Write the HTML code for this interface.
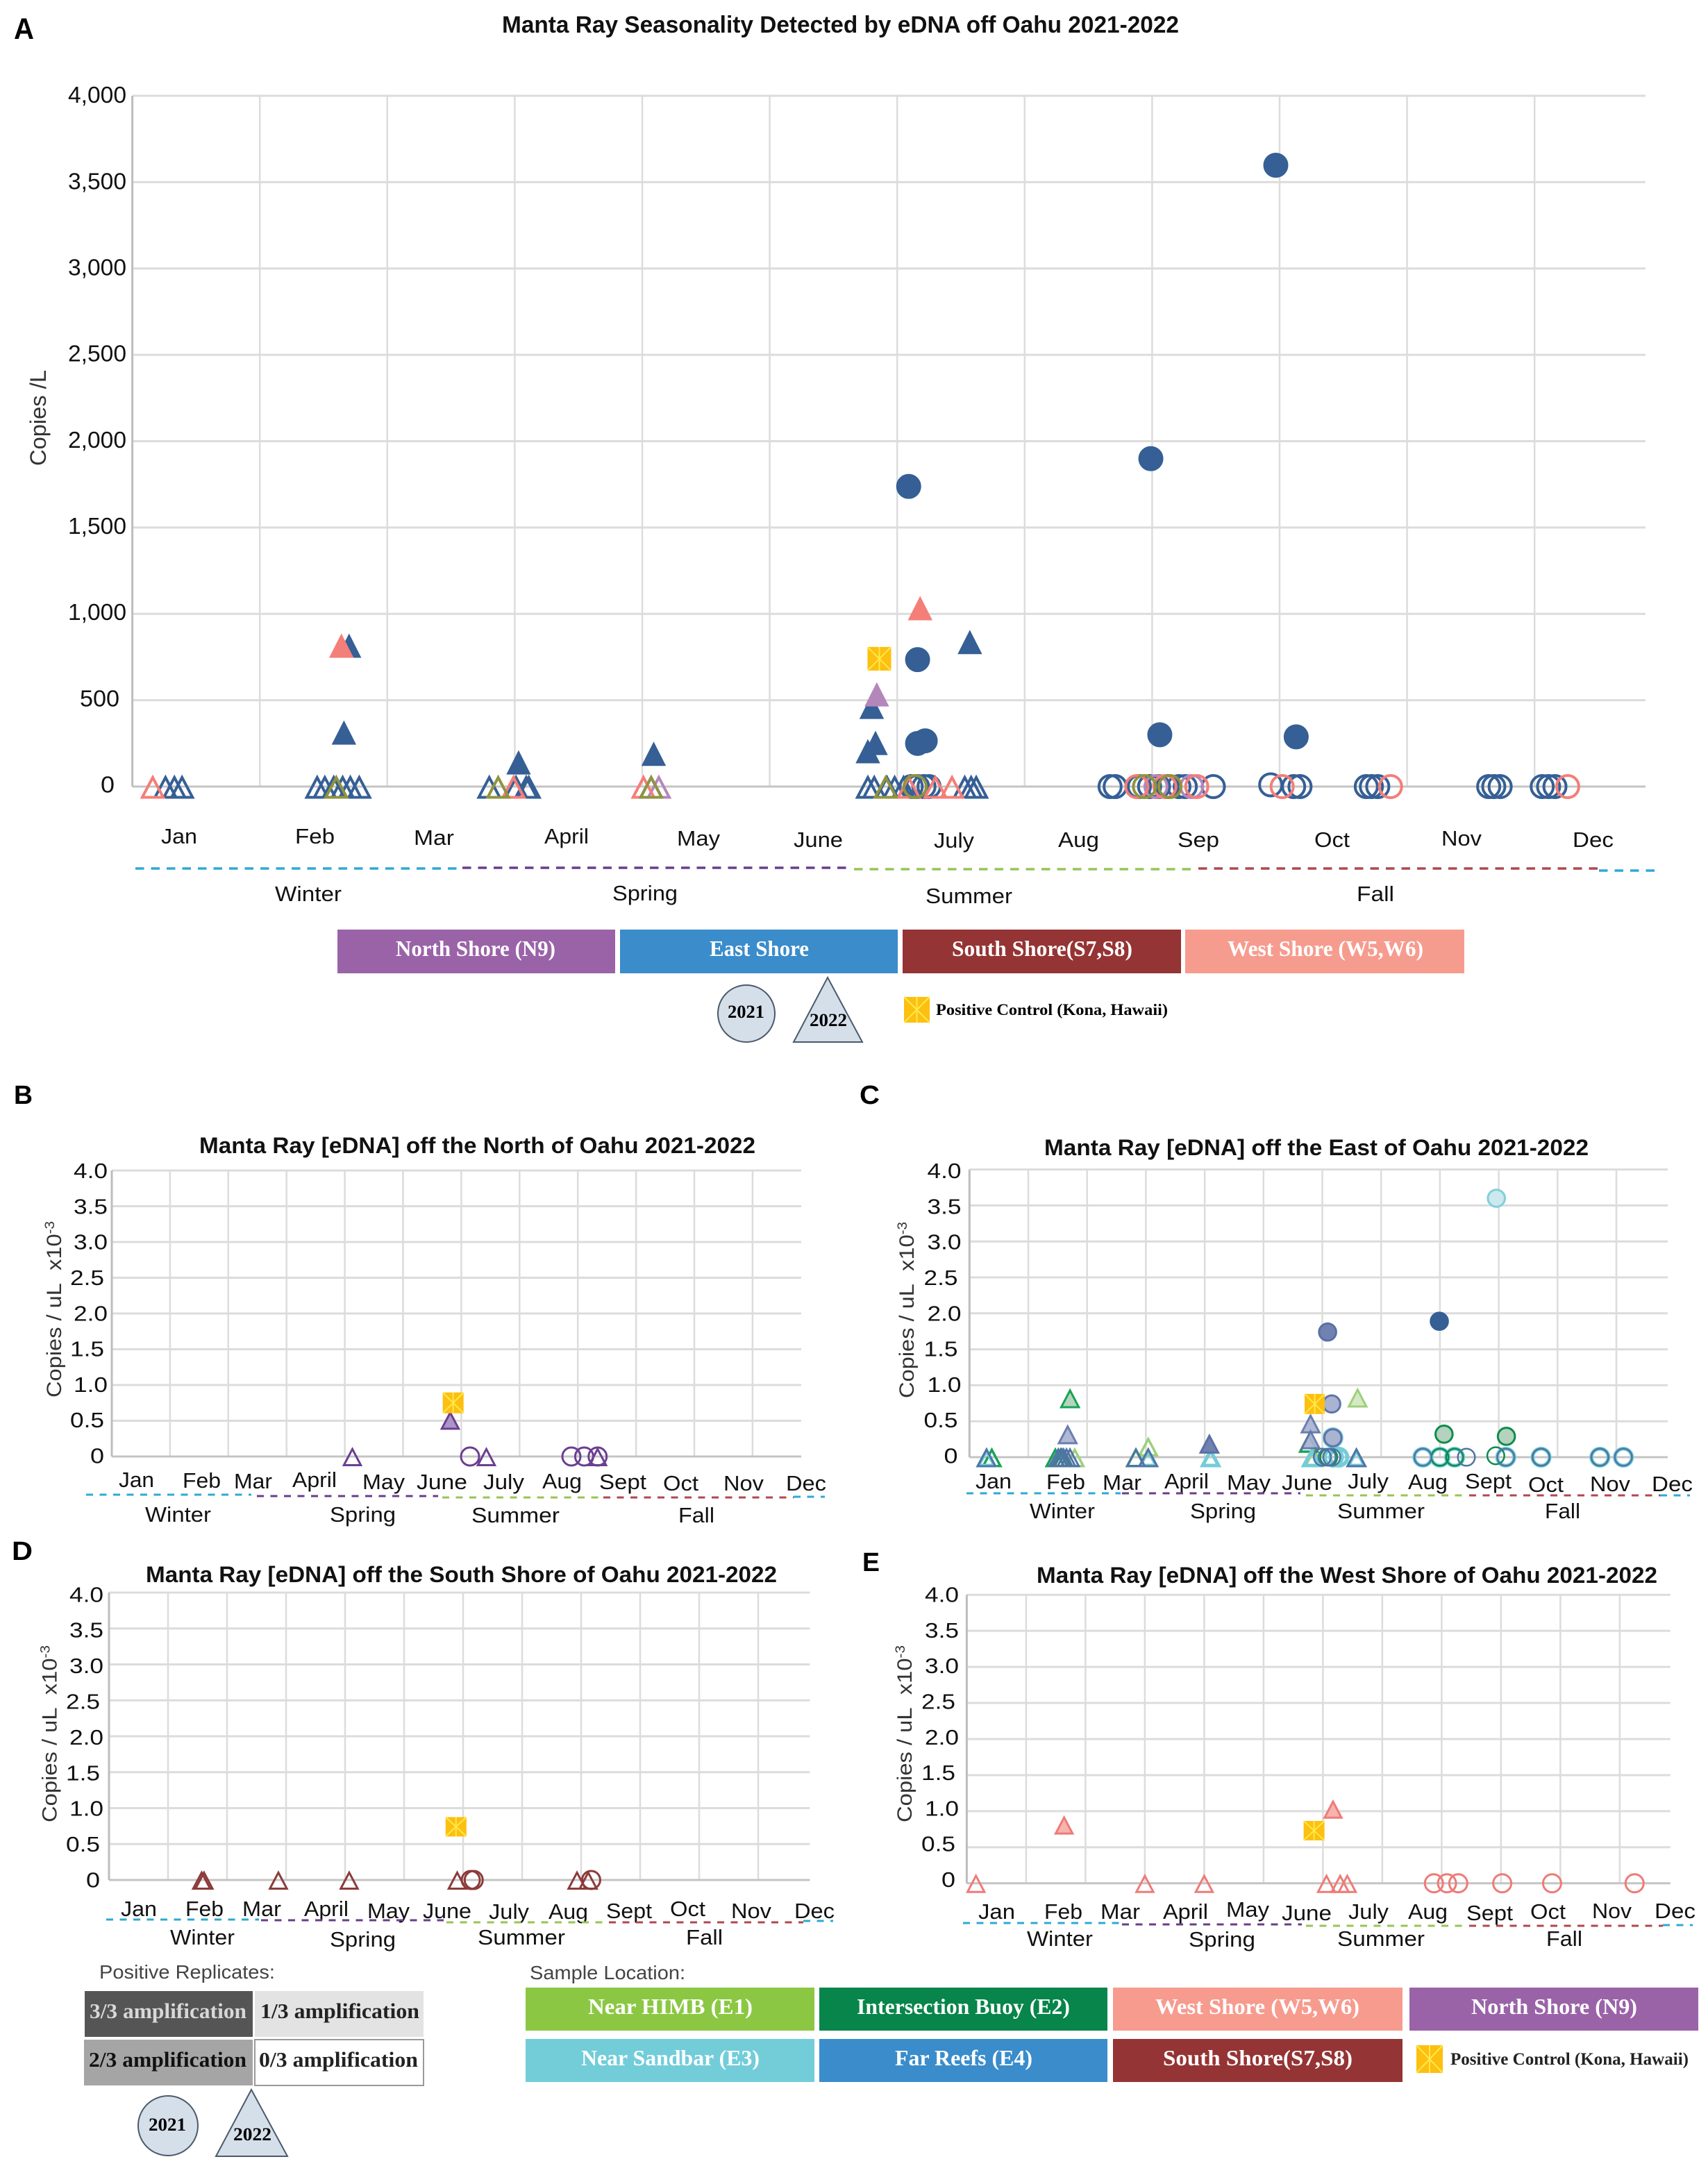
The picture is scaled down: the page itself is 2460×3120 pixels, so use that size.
<!DOCTYPE html>
<html lang="en">
<head>
<meta charset="utf-8">
<title>Manta Ray Seasonality Detected by eDNA off Oahu 2021-2022</title>
<style>
html,body{margin:0;padding:0;background:#fff}
svg{display:block}
text{font-family:"Liberation Sans",sans-serif;fill:#111}
.ttl{font-weight:700;font-size:32px}
.let{font-weight:700;font-size:38px;fill:#000}
.m{font-size:31px}
.s{font-size:31px}
.yt{font-size:30px;fill:#333}
.lg{font-family:"Liberation Serif",serif;font-weight:700;font-size:32px;fill:#fff}
.lk{font-family:"Liberation Serif",serif;font-weight:700;font-size:26px;fill:#000}
.lh{font-size:28px;fill:#444}
.win{stroke:#2fa8d5}.spr{stroke:#6a3d8a}.sum{stroke:#98c455}.fal{stroke:#b0474f}
.da{stroke-width:3.5;stroke-dasharray:12.5 10;fill:none}
.ds{stroke-width:3;stroke-dasharray:10 9.5;fill:none}
</style>
</head>
<body>
<svg id="fig" xmlns="http://www.w3.org/2000/svg" width="2460" height="3120" viewBox="0 0 2460 3120">
<rect x="0" y="0" width="2460" height="3120" fill="#fff"/>

<g id="plots"></g>

<!-- PANEL A -->
<g>
<text class="let" style="font-size:43px" x="20" y="56" textLength="29">A</text>
<text class="ttl" style="font-size:34px" x="723" y="47" textLength="975">Manta Ray Seasonality Detected by eDNA off Oahu 2021-2022</text>
<text class="yt" style="font-size:32px" transform="translate(66,671) rotate(-90)" x="0" y="0" textLength="138">Copies /L</text>
<text class="m" x="232" y="1215" textLength="52">Jan</text>
<text class="m" x="425" y="1215" textLength="57">Feb</text>
<text class="m" x="596" y="1217" textLength="58">Mar</text>
<text class="m" x="784" y="1215" textLength="64">April</text>
<text class="m" x="975" y="1218" textLength="62">May</text>
<text class="m" x="1143" y="1220" textLength="71">June</text>
<text class="m" x="1345" y="1221" textLength="58">July</text>
<text class="m" x="1524" y="1220" textLength="59">Aug</text>
<text class="m" x="1696" y="1220" textLength="60">Sep</text>
<text class="m" x="1893" y="1220" textLength="51">Oct</text>
<text class="m" x="2076" y="1218" textLength="58">Nov</text>
<text class="m" x="2265" y="1220" textLength="59">Dec</text>
<line class="da win" x1="195" y1="1251" x2="663" y2="1251"/>
<line class="da spr" x1="666" y1="1250" x2="1221" y2="1250"/>
<line class="da sum" x1="1230" y1="1252" x2="1722" y2="1252"/>
<line class="da fal" x1="1726" y1="1251" x2="2303" y2="1251"/>
<line class="da win" x1="2303" y1="1254" x2="2385" y2="1254"/>
<text class="s" x="396" y="1298" textLength="96">Winter</text>
<text class="s" x="882" y="1297" textLength="94">Spring</text>
<text class="s" x="1333" y="1301" textLength="125">Summer</text>
<text class="s" x="1954" y="1298" textLength="54">Fall</text>
<rect x="486" y="1339" width="400" height="63" fill="#9a63a8"/>
<text class="lg" x="570" y="1377" textLength="230">North Shore (N9)</text>
<rect x="893" y="1339" width="400" height="63" fill="#3a8ccb"/>
<text class="lg" x="1022" y="1377" textLength="143">East Shore</text>
<rect x="1300" y="1339" width="401" height="63" fill="#953434"/>
<text class="lg" x="1371" y="1377" textLength="260">South Shore(S7,S8)</text>
<rect x="1707" y="1339" width="402" height="63" fill="#f69c8f"/>
<text class="lg" x="1768" y="1377" textLength="282">West Shore (W5,W6)</text>
<ellipse cx="1075" cy="1460" rx="41" ry="41" fill="#d5dfea" stroke="#4a5a6a" stroke-width="2"/>
<text class="lk" x="1048" y="1466" textLength="53">2021</text>
<polygon points="1192,1408 1242,1501 1143,1501" fill="#d5dfea" stroke="#4a5a6a" stroke-width="2"/>
<text class="lk" x="1166" y="1478" textLength="54">2022</text>
<text class="lk" style="font-size:23px" x="1348" y="1462" textLength="334">Positive Control (Kona, Hawaii)</text>
</g>

<!-- PANEL B -->
<g>
<text class="let" x="20" y="1590" textLength="27">B</text>
<text class="ttl" x="287" y="1661" textLength="801">Manta Ray [eDNA] off the North of Oahu 2021-2022</text>
<text class="yt" transform="translate(88,2013) rotate(-90)" x="0" y="0" textLength="254">Copies / uL&#160;&#160;x10<tspan font-size="19" dy="-10">-3</tspan></text>
<text class="m" x="171" y="2142" textLength="51">Jan</text>
<text class="m" x="263" y="2143" textLength="55">Feb</text>
<text class="m" x="337" y="2144" textLength="55">Mar</text>
<text class="m" x="421" y="2142" textLength="64">April</text>
<text class="m" x="522" y="2145" textLength="61">May</text>
<text class="m" x="600" y="2145" textLength="73">June</text>
<text class="m" x="696" y="2145" textLength="59">July</text>
<text class="m" x="781" y="2144" textLength="57">Aug</text>
<text class="m" x="863" y="2145" textLength="68">Sept</text>
<text class="m" x="955" y="2147" textLength="51">Oct</text>
<text class="m" x="1042" y="2147" textLength="58">Nov</text>
<text class="m" x="1132" y="2147" textLength="58">Dec</text>
<line class="ds win" x1="124" y1="2153" x2="362" y2="2153"/>
<line class="ds spr" x1="370" y1="2155" x2="631" y2="2155"/>
<line class="ds sum" x1="637" y1="2157" x2="867" y2="2157"/>
<line class="ds fal" x1="869" y1="2157" x2="1143" y2="2157"/>
<line class="ds win" x1="1143" y1="2156" x2="1188" y2="2156"/>
<text class="s" x="209" y="2192" textLength="95">Winter</text>
<text class="s" x="475" y="2192" textLength="95">Spring</text>
<text class="s" x="679" y="2193" textLength="127">Summer</text>
<text class="s" x="977" y="2193" textLength="52">Fall</text>
</g>

<!-- PANEL C -->
<g>
<text class="let" x="1238" y="1590" textLength="29">C</text>
<text class="ttl" x="1504" y="1664" textLength="784">Manta Ray [eDNA] off the East of Oahu 2021-2022</text>
<text class="yt" transform="translate(1316,2014) rotate(-90)" x="0" y="0" textLength="254">Copies / uL&#160;&#160;x10<tspan font-size="19" dy="-10">-3</tspan></text>
<text class="m" x="1405" y="2144" textLength="52">Jan</text>
<text class="m" x="1507" y="2145" textLength="56">Feb</text>
<text class="m" x="1588" y="2146" textLength="56">Mar</text>
<text class="m" x="1677" y="2144" textLength="64">April</text>
<text class="m" x="1767" y="2146" textLength="63">May</text>
<text class="m" x="1846" y="2146" textLength="73">June</text>
<text class="m" x="1941" y="2144" textLength="59">July</text>
<text class="m" x="2028" y="2145" textLength="57">Aug</text>
<text class="m" x="2110" y="2144" textLength="67">Sept</text>
<text class="m" x="2201" y="2149" textLength="51">Oct</text>
<text class="m" x="2290" y="2148" textLength="58">Nov</text>
<text class="m" x="2379" y="2148" textLength="59">Dec</text>
<line class="ds win" x1="1392" y1="2151" x2="1614" y2="2151"/>
<line class="ds spr" x1="1616" y1="2151" x2="1873" y2="2151"/>
<line class="ds sum" x1="1881" y1="2154" x2="2115" y2="2154"/>
<line class="ds fal" x1="2116" y1="2154" x2="2391" y2="2154"/>
<line class="ds win" x1="2391" y1="2154" x2="2434" y2="2154"/>
<text class="s" x="1483" y="2187" textLength="94">Winter</text>
<text class="s" x="1714" y="2187" textLength="95">Spring</text>
<text class="s" x="1926" y="2187" textLength="126">Summer</text>
<text class="s" x="2225" y="2187" textLength="51">Fall</text>
</g>

<!-- PANEL D -->
<g>
<text class="let" x="17" y="2247" textLength="30">D</text>
<text class="ttl" x="210" y="2279" textLength="909">Manta Ray [eDNA] off the South Shore of Oahu 2021-2022</text>
<text class="yt" transform="translate(81.6,2625) rotate(-90)" x="0" y="0" textLength="255">Copies / uL&#160;&#160;x10<tspan font-size="19" dy="-10">-3</tspan></text>
<text class="m" x="174" y="2760" textLength="52">Jan</text>
<text class="m" x="267" y="2760" textLength="55">Feb</text>
<text class="m" x="349" y="2760" textLength="56">Mar</text>
<text class="m" x="438" y="2760" textLength="64">April</text>
<text class="m" x="529" y="2763" textLength="61">May</text>
<text class="m" x="609" y="2763" textLength="70">June</text>
<text class="m" x="704" y="2764" textLength="58">July</text>
<text class="m" x="790" y="2764" textLength="57">Aug</text>
<text class="m" x="873" y="2763" textLength="66">Sept</text>
<text class="m" x="965" y="2760" textLength="51">Oct</text>
<text class="m" x="1053" y="2763" textLength="58">Nov</text>
<text class="m" x="1144" y="2763" textLength="58">Dec</text>
<line class="ds win" x1="153" y1="2765" x2="373" y2="2765"/>
<line class="ds spr" x1="376" y1="2766" x2="639" y2="2766"/>
<line class="ds sum" x1="643" y1="2769" x2="875" y2="2769"/>
<line class="ds fal" x1="877" y1="2769" x2="1157" y2="2769"/>
<line class="ds win" x1="1157" y1="2767" x2="1200" y2="2767"/>
<text class="s" x="245" y="2801" textLength="93">Winter</text>
<text class="s" x="475" y="2804" textLength="95">Spring</text>
<text class="s" x="688" y="2801" textLength="126">Summer</text>
<text class="s" x="988" y="2801" textLength="53">Fall</text>
</g>

<!-- PANEL E -->
<g>
<text class="let" x="1242" y="2263" textLength="25">E</text>
<text class="ttl" x="1493" y="2280" textLength="894">Manta Ray [eDNA] off the West Shore of Oahu 2021-2022</text>
<text class="yt" transform="translate(1313,2625) rotate(-90)" x="0" y="0" textLength="255">Copies / uL&#160;&#160;x10<tspan font-size="19" dy="-10">-3</tspan></text>
<text class="m" x="1409" y="2764" textLength="53">Jan</text>
<text class="m" x="1504" y="2764" textLength="55">Feb</text>
<text class="m" x="1585" y="2764" textLength="57">Mar</text>
<text class="m" x="1675" y="2764" textLength="65">April</text>
<text class="m" x="1766" y="2761" textLength="62">May</text>
<text class="m" x="1846" y="2766" textLength="72">June</text>
<text class="m" x="1942" y="2764" textLength="58">July</text>
<text class="m" x="2028" y="2764" textLength="57">Aug</text>
<text class="m" x="2112" y="2766" textLength="67">Sept</text>
<text class="m" x="2204" y="2764" textLength="51">Oct</text>
<text class="m" x="2293" y="2763" textLength="57">Nov</text>
<text class="m" x="2383" y="2763" textLength="59">Dec</text>
<line class="ds win" x1="1387" y1="2770" x2="1614" y2="2770"/>
<line class="ds spr" x1="1616" y1="2772" x2="1875" y2="2772"/>
<line class="ds sum" x1="1881" y1="2774" x2="2115" y2="2774"/>
<line class="ds fal" x1="2116" y1="2774" x2="2395" y2="2774"/>
<line class="ds win" x1="2395" y1="2773" x2="2438" y2="2773"/>
<text class="s" x="1479" y="2803" textLength="95">Winter</text>
<text class="s" x="1712" y="2804" textLength="96">Spring</text>
<text class="s" x="1926" y="2803" textLength="126">Summer</text>
<text class="s" x="2227" y="2803" textLength="52">Fall</text>
</g>

<!-- BOTTOM LEGENDS -->
<g>
<text class="lh" x="143" y="2850" textLength="253">Positive Replicates:</text>
<rect x="122" y="2868" width="242" height="66" fill="#555555"/>
<text class="lk" style="font-size:31px;fill:#d8d8d8" x="129" y="2907" textLength="226">3/3 amplification</text>
<rect x="367" y="2868" width="243" height="66" fill="#e3e3e3"/>
<text class="lk" style="font-size:31px;fill:#222" x="375" y="2907" textLength="229">1/3 amplification</text>
<rect x="121" y="2938" width="243" height="66" fill="#a5a5a5"/>
<text class="lk" style="font-size:31px;fill:#111" x="128" y="2977" textLength="227">2/3 amplification</text>
<rect x="367" y="2938" width="243" height="66" fill="#fff" stroke="#999" stroke-width="2"/>
<text class="lk" style="font-size:31px;fill:#222" x="373" y="2977" textLength="229">0/3 amplification</text>
<ellipse cx="242" cy="3062" rx="43" ry="43" fill="#d5dfea" stroke="#4a5a6a" stroke-width="2"/>
<text class="lk" x="214" y="3069" textLength="54">2021</text>
<polygon points="362,3010 414,3106 311,3106" fill="#d5dfea" stroke="#4a5a6a" stroke-width="2"/>
<text class="lk" x="336" y="3083" textLength="55">2022</text>
<text class="lh" x="763" y="2851" textLength="224">Sample Location:</text>
<rect x="757" y="2863" width="416" height="62" fill="#8cc743"/>
<text class="lg" x="847" y="2901" textLength="237">Near HIMB (E1)</text>
<rect x="757" y="2937" width="416" height="62" fill="#72cdd9"/>
<text class="lg" x="837" y="2975" textLength="257">Near Sandbar (E3)</text>
<rect x="1180" y="2863" width="415" height="62" fill="#07854a"/>
<text class="lg" x="1234" y="2901" textLength="307">Intersection Buoy (E2)</text>
<rect x="1180" y="2937" width="415" height="62" fill="#3a8ccb"/>
<text class="lg" x="1289" y="2975" textLength="198">Far Reefs (E4)</text>
<rect x="1603" y="2863" width="417" height="62" fill="#f79b8f"/>
<text class="lg" x="1664" y="2901" textLength="294">West Shore (W5,W6)</text>
<rect x="1603" y="2937" width="417" height="62" fill="#953434"/>
<text class="lg" x="1675" y="2975" textLength="273">South Shore(S7,S8)</text>
<rect x="2030" y="2863" width="416" height="62" fill="#9a63a8"/>
<text class="lg" x="2119" y="2901" textLength="239">North Shore (N9)</text>
<text class="lk" style="font-size:25px;fill:#222" x="2089" y="2974" textLength="343">Positive Control (Kona, Hawaii)</text>
</g>
</svg>

<script>
// ---- shared axis data ----
const gridMonths = [1,2,3,4,5,6,7,8,9,10,11];
const aTickValues = [0,500,1000,1500,2000,2500,3000,3500,4000];
const aTickLabels = ['0','500','1,000','1,500','2,000','2,500','3,000','3,500','4,000'];
const smallTickValues = [0,0.5,1,1.5,2,2.5,3,3.5,4];
const smallTickLabels = ['0','0.5','1.0','1.5','2.0','2.5','3.0','3.5','4.0'];

// ---- Panel A: sample month position and copies per litre ----
const aTriBlueMonth = [.26,.33,.39,1.45,1.51,1.58,1.65,1.71,1.78,2.80,3.01,3.09,3.11,4.07,5.77,5.82,5.92,5.98,6.05,6.53,6.58,6.62];
const aTriBlueCopies = [0,0,0,0,0,0,0,0,0,0,0,0,0,0,0,0,0,0,0,0,0,0];
const aTriPinkMonth = [.16,2.99,4.01,6.09,6.30,6.43];
const aTriPinkCopies = [0,0,0,0,0,0];
const aTriOliveMonth = [1.60,2.87,4.07,5.91];
const aTriOliveCopies = [0,0,0,0];
const aTriPurpleMonth = [4.13];
const aTriPurpleCopies = [0];
const aCircleBlueMonth = [6.11,6.16,6.21,6.25,7.67,7.71,7.90,7.98,8.05,8.12,8.21,8.26,8.48,8.93,9.11,9.16,9.68,9.72,9.77,10.64,10.68,10.73,11.06,11.11,11.16];
const aCircleBlueCopies = [0,0,0,0,0,0,0,0,0,0,0,0,0,10,0,0,0,0,0,0,0,0,0,0,0];
const aCirclePinkMonth = [7.88,8.10,8.35,9.02,9.87,11.26];
const aCirclePinkCopies = [0,0,0,0,0,0];
const aCircleOliveMonth = [6.14,7.94,8.14];
const aCircleOliveCopies = [0,0,0];
const aCirclePurpleMonth = [8.03,8.31];
const aCirclePurpleCopies = [0,0];
const aSolidCircleBlueMonth = [6.09,6.16,6.16,6.22,7.99,8.06,8.97,9.13];
const aSolidCircleBlueCopies = [1738,735,250,265,1899,300,3598,288];
const aSolidTriBlueMonth = [1.66,1.70,3.03,4.09,5.77,5.83,5.80,6.57];
const aSolidTriBlueCopies = [313,816,140,190,205,253,462,837];
const aSolidTriPinkMonth = [1.64,6.18];
const aSolidTriPinkCopies = [816,1033];
const aSolidTriPurpleMonth = [5.84];
const aSolidTriPurpleCopies = [534];
const aControlMonth = [5.86];
const aControlCopies = [740];

// ---- Panel B ----
const bTriMonth = [4.13,6.43,8.34];
const bTriValue = [0,0,0];
const bCircleMonth = [6.15,7.89,8.11,8.34];
const bCircleValue = [0,0,0,0];
const bSolidTriMonth = [5.81];
const bSolidTriValue = [0.51];
const bControlMonth = [5.86];
const bControlValue = [0.75];

// ---- Panel C ----
const cTriE1Month = [1.79,2.83,3.04,4.10,5.86];
const cTriE1Value = [0,0,0.15,0,0];
const cTriE2Month = [.38,1.46,1.57,2.83,3.04,4.10,5.77,6.58];
const cTriE2Value = [0,0,0,0,0,0,0.20,0];
const cTriE3Month = [.29,3.04,4.10,5.82,6.58];
const cTriE3Value = [0,0,0,0,0];
const cTriE4Month = [.29,1.51,1.55,1.60,1.65,1.71,2.83,3.04,6.58];
const cTriE4Value = [0,0,0,0,0,0,0,0,0];
const cCircleE2Month = [6.11,8.00,8.25,8.95,9.72,10.72];
const cCircleE2Value = [0,0,0,0.02,0,0];
const cCircleE3Month = [6.19,6.28,6.18,7.71,8.00,8.25,9.12,9.72,10.72,11.12];
const cCircleE3Value = [0,0,0.27,0,0,0,0,0,0,0];
const cCircleE4Month = [6.00,6.08,6.16,7.71,8.45,9.12,9.72,10.72,11.12];
const cCircleE4Value = [0,0,0,0,0,0,0,0,0];
const cSolidCircleMidMonth = [6.09];
const cSolidCircleMidValue = [1.74];
const cSolidCircleBlueMonth = [7.99];
const cSolidCircleBlueValue = [1.89];
const cSolidCircleLightMonth = [6.16,6.18];
const cSolidCircleLightValue = [0.74,0.27];
const cSolidCircleTealMonth = [8.96];
const cSolidCircleTealValue = [3.60];
const cSolidCircleGreenMonth = [8.07,9.13];
const cSolidCircleGreenValue = [0.32,0.29];
const cSolidTriGreenMonth = [1.71];
const cSolidTriGreenValue = [0.82];
const cSolidTriLightMonth = [1.67,5.80,5.80];
const cSolidTriLightValue = [0.32,0.47,0.25];
const cSolidTriPaleMonth = [6.60];
const cSolidTriPaleValue = [0.83];
const cSolidTriMidMonth = [4.08];
const cSolidTriMidValue = [0.19];
const cControlMonth = [5.87];
const cControlValue = [0.74];

// ---- Panel D ----
const dTriMonth = [1.57,1.61,2.87,4.07,5.90,7.93,8.12];
const dTriValue = [0,0,0,0,0,0,0];
const dCircleMonth = [6.13,6.18,8.17];
const dCircleValue = [0,0,0];
const dControlMonth = [5.88];
const dControlValue = [0.74];

// ---- Panel E ----
const eTriMonth = [.155,3.00,4.00,6.06,6.29,6.41];
const eTriValue = [0,0,0,0,0,0];
const eCircleMonth = [7.87,8.09,8.28,9.02,9.86,11.25];
const eCircleValue = [0,0,0,0,0,0];
const eSolidTriMonth = [1.64,6.17];
const eSolidTriValue = [0.81,1.03];
const eControlMonth = [5.85];
const eControlValue = [0.73];

const SVGNS = 'http://www.w3.org/2000/svg';
const layer = document.getElementById('plots');

function svgEl(tag, parent){
  const el = document.createElementNS(SVGNS, tag);
  parent.appendChild(el);
  return el;
}

function makePanel(key, x0, dx, y0, yPerUnit, right, size, textRight, baseOffset, fontSize, labelY0, labelK){
  const g = svgEl('g', layer);
  
  
  return {key, g, x0, dx, y0, yPerUnit, right, size, textRight, baseOffset, fontSize,
    sx: m => x0 + dx * m,
    sy: v => y0 - v * yPerUnit,
    ly: v => labelY0 - v * labelK};
}

function drawAxes(p, tickValues, tickLabels, isLarge){
  const top = p.sy(tickValues[tickValues.length - 1]);
  const bottom = p.sy(0);
  gridMonths.forEach(m => {
    const l = svgEl('line', p.g);
    
    
    l.setAttribute('x1', p.sx(m)); l.setAttribute('x2', p.sx(m));
    l.setAttribute('y1', top); l.setAttribute('y2', bottom);
    l.setAttribute('stroke', '#dcdcdc'); l.setAttribute('stroke-width', 2.5);
  });
  tickValues.forEach((v, i) => {
    const l = svgEl('line', p.g);
    
    
    l.setAttribute('x1', p.x0); l.setAttribute('x2', p.right);
    l.setAttribute('y1', p.sy(v)); l.setAttribute('y2', p.sy(v));
    l.setAttribute('stroke', v === 0 ? '#c4c4c4' : '#dcdcdc');
    l.setAttribute('stroke-width', 3);

    const t = svgEl('text', p.g);
    
    
    const label = tickLabels[i];
    let width, right;
    if (isLarge) {
      width = label.length >= 5 ? 84 : label.length === 3 ? 57 : 20;
      right = label.length >= 5 ? p.textRight : label.length === 3 ? p.textRight - 10 : p.textRight - 17;
    } else {
      width = label.length === 3 ? 49 : 20;
      right = (label === '2.5' || label === '1.5' || label === '0.5') ? p.textRight - 5 : label === '0' ? p.textRight - 5 : p.textRight;
    }
    t.setAttribute('x', right - width);
    t.setAttribute('y', p.ly(v) + p.baseOffset);
    t.setAttribute('font-size', p.fontSize);
    t.setAttribute('textLength', width);
    t.textContent = label;
  });
  const a = svgEl('line', p.g);
  
  
  a.setAttribute('x1', p.x0); a.setAttribute('x2', p.x0);
  a.setAttribute('y1', top); a.setAttribute('y2', bottom);
  a.setAttribute('stroke', '#bdbdbd'); a.setAttribute('stroke-width', 3);
}

function triangles(p, months, values, fill, stroke, sw, name, opacity){
  months.forEach((m, i) => {
    const x = p.sx(m), y = p.sy(values[i]), s = p.size;
    const hw = s - sw * 0.6, base = s - sw / 2, apex = s - sw * 1.1;
    const el = svgEl('polygon', p.g);
    
    
    el.setAttribute('points', (x - hw) + ',' + (y + base) + ' ' + x + ',' + (y - apex) + ' ' + (x + hw) + ',' + (y + base));
    el.setAttribute('fill', fill);
    el.setAttribute('stroke', stroke);
    el.setAttribute('stroke-width', sw);
    el.setAttribute('stroke-linejoin', 'miter');
    if (opacity) el.setAttribute('opacity', opacity);
  });
}

function circles(p, months, values, fill, stroke, sw, name, opacity){
  months.forEach((m, i) => {
    const el = svgEl('circle', p.g);
    
    
    el.setAttribute('cx', p.sx(m));
    el.setAttribute('cy', p.sy(values[i]));
    el.setAttribute('r', p.circleR || (p.size - sw / 2 + 0.5));
    el.setAttribute('fill', fill);
    el.setAttribute('stroke', stroke);
    el.setAttribute('stroke-width', sw);
    if (opacity) el.setAttribute('opacity', opacity);
  });
}

function controlBox(parent, cx, cy, hw, hh, name){
  const g = svgEl('g', parent);
  
  
  const r = svgEl('rect', g);
  r.setAttribute('x', cx - hw); r.setAttribute('y', cy - hh);
  r.setAttribute('width', 2 * hw); r.setAttribute('height', 2 * hh);
  r.setAttribute('fill', '#fdbf10');
  [[-hw, -hh, hw, hh], [-hw, hh, hw, -hh], [0, -hh, 0, hh]].forEach(s => {
    const l = svgEl('line', g);
    l.setAttribute('x1', cx + s[0]); l.setAttribute('y1', cy + s[1]);
    l.setAttribute('x2', cx + s[2]); l.setAttribute('y2', cy + s[3]);
    l.setAttribute('stroke', '#ffe94a'); l.setAttribute('stroke-width', 2);
  });
}

function controls(p, months, values, hw, hh){
  months.forEach((m, i) => controlBox(p.g, p.sx(m), p.sy(values[i]), hw, hh, 'panel-' + p.key + '-positive-control'));
}

// ---- Panel A ----
const pA = makePanel('a', 190.6, 183.6, 1133, 0.24875, 2370, 17.5, 182, 11.5, 33, 1130, 0.24833);
drawAxes(pA, aTickValues, aTickLabels, true);
const BLUE = '#355f95', PINK = '#f47e78', OLIVE = '#8f943f', LILAC = '#b487bb';
triangles(pA, aTriBlueMonth, aTriBlueCopies, 'none', BLUE, 4, 'panel-a-2022-blue-hollow-triangle');
circles(pA, aCircleBlueMonth, aCircleBlueCopies, 'none', BLUE, 4, 'panel-a-2021-blue-hollow-circle');
triangles(pA, aTriPurpleMonth, aTriPurpleCopies, 'none', LILAC, 4, 'panel-a-2022-purple-hollow-triangle');
circles(pA, aCirclePurpleMonth, aCirclePurpleCopies, 'none', LILAC, 4, 'panel-a-2021-purple-hollow-circle');
triangles(pA, aTriPinkMonth, aTriPinkCopies, 'none', PINK, 4, 'panel-a-2022-pink-hollow-triangle');
circles(pA, aCirclePinkMonth, aCirclePinkCopies, 'none', PINK, 4, 'panel-a-2021-pink-hollow-circle');
triangles(pA, aTriOliveMonth, aTriOliveCopies, 'none', OLIVE, 4, 'panel-a-2022-olive-hollow-triangle');
circles(pA, aCircleOliveMonth, aCircleOliveCopies, 'none', OLIVE, 4, 'panel-a-2021-olive-hollow-circle');
triangles(pA, aSolidTriBlueMonth, aSolidTriBlueCopies, BLUE, BLUE, 1, 'panel-a-2022-blue-solid-triangle');
circles(pA, aSolidCircleBlueMonth, aSolidCircleBlueCopies, BLUE, BLUE, 1, 'panel-a-2021-blue-solid-circle');
triangles(pA, aSolidTriPinkMonth, aSolidTriPinkCopies, PINK, PINK, 1, 'panel-a-2022-pink-solid-triangle');
triangles(pA, aSolidTriPurpleMonth, aSolidTriPurpleCopies, LILAC, LILAC, 1, 'panel-a-2022-purple-solid-triangle');
controls(pA, aControlMonth, aControlCopies, 17, 17);

// ---- Panel B ----
const pB = makePanel('b', 161, 83.9, 2098, 103, 1154, 14, 155, 10.5, 31, 2097, 102.6);
drawAxes(pB, smallTickValues, smallTickLabels, false);
const PURP = '#6b3f90';
triangles(pB, bTriMonth, bTriValue, 'none', PURP, 3, 'panel-b-2022-hollow-triangle');
circles(pB, bCircleMonth, bCircleValue, 'none', PURP, 3, 'panel-b-2021-hollow-circle');
triangles(pB, bSolidTriMonth, bSolidTriValue, '#ab95c8', PURP, 3, 'panel-b-2022-filled-triangle');
controls(pB, bControlMonth, bControlValue, 15, 15);

// ---- Panel C ----
const pC = makePanel('c', 1396.3, 84.7, 2099, 103.6, 2402, 14.5, 1384.5, 10.5, 31, 2097, 102.6);
pC.circleR = 12.3;
drawAxes(pC, smallTickValues, smallTickLabels, false);
const E1 = '#9dd07a', E2 = '#17a354', E2C = '#0d8c4c', E3 = '#72cdd8', E4 = '#4f74a5';
triangles(pC, cTriE1Month, cTriE1Value, 'none', E1, 3.5, 'panel-c-near-himb-hollow-triangle');
triangles(pC, cTriE2Month, cTriE2Value, 'none', E2, 3.5, 'panel-c-intersection-buoy-hollow-triangle');
triangles(pC, cTriE3Month, cTriE3Value, 'none', E3, 5, 'panel-c-near-sandbar-hollow-triangle');
triangles(pC, cTriE4Month, cTriE4Value, 'none', E4, 3, 'panel-c-far-reefs-hollow-triangle');
circles(pC, cCircleE3Month, cCircleE3Value, 'none', E3, 5.5, 'panel-c-near-sandbar-hollow-circle');
circles(pC, cCircleE2Month, cCircleE2Value, 'none', E2C, 2.5, 'panel-c-intersection-buoy-hollow-circle');
circles(pC, cCircleE4Month, cCircleE4Value, 'none', E4, 2.5, 'panel-c-far-reefs-hollow-circle');
triangles(pC, cSolidTriGreenMonth, cSolidTriGreenValue, '#b5d4bd', E2, 3, 'panel-c-intersection-buoy-filled-triangle');
triangles(pC, cSolidTriLightMonth, cSolidTriLightValue, '#a9b3d2', '#5f74a8', 3, 'panel-c-far-reefs-light-triangle', 0.92);
triangles(pC, cSolidTriPaleMonth, cSolidTriPaleValue, '#d5e8c5', E1, 3, 'panel-c-near-himb-filled-triangle');
triangles(pC, cSolidTriMidMonth, cSolidTriMidValue, '#6f82b0', '#5a70a5', 3, 'panel-c-far-reefs-mid-triangle');
circles(pC, cSolidCircleMidMonth, cSolidCircleMidValue, '#6f82b0', '#5a70a5', 3, 'panel-c-far-reefs-mid-circle');
circles(pC, cSolidCircleBlueMonth, cSolidCircleBlueValue, BLUE, BLUE, 3, 'panel-c-far-reefs-solid-circle');
circles(pC, cSolidCircleLightMonth, cSolidCircleLightValue, '#a9b3d2', '#5f74a8', 3, 'panel-c-far-reefs-light-circle');
circles(pC, cSolidCircleTealMonth, cSolidCircleTealValue, '#cde8ee', '#7fd0da', 3, 'panel-c-near-sandbar-filled-circle');
circles(pC, cSolidCircleGreenMonth, cSolidCircleGreenValue, '#b4d2be', E2C, 3, 'panel-c-intersection-buoy-filled-circle');
controls(pC, cControlMonth, cControlValue, 14.5, 14.5);

// ---- Panel D ----
const pD = makePanel('d', 157, 85, 2708, 103.5, 1166.4, 14, 149, 10.5, 31, 2708, 102.8);
drawAxes(pD, smallTickValues, smallTickLabels, false);
const DRED = '#8c3b3b';
triangles(pD, dTriMonth, dTriValue, 'none', DRED, 3, 'panel-d-2022-hollow-triangle');
circles(pD, dCircleMonth, dCircleValue, 'none', DRED, 3, 'panel-d-2021-hollow-circle');
controls(pD, dControlMonth, dControlValue, 15, 14);

// ---- Panel E ----
const pE = makePanel('e', 1392.4, 85.5, 2712.8, 103.9, 2405.8, 14, 1381, 10.5, 31, 2707.5, 102.6);
drawAxes(pE, smallTickValues, smallTickLabels, false);
const SALM = '#ee7b77';
triangles(pE, eTriMonth, eTriValue, 'none', SALM, 3, 'panel-e-2022-hollow-triangle');
circles(pE, eCircleMonth, eCircleValue, 'none', SALM, 3, 'panel-e-2021-hollow-circle');
triangles(pE, eSolidTriMonth, eSolidTriValue, '#f7b3ad', SALM, 3, 'panel-e-2022-filled-triangle');
controls(pE, eControlMonth, eControlValue, 15, 14);

// ---- legend swatches ----
controlBox(document.getElementById('fig'), 1320.5, 1454.5, 18.5, 18.5, 'legend-positive-control-swatch');
controlBox(document.getElementById('fig'), 2059, 2966, 19, 20, 'bottom-legend-positive-control-swatch');

document.querySelectorAll('text[textLength]').forEach(t => {
  t.setAttribute('lengthAdjust', 'spacingAndGlyphs');
});
</script>
</body>
</html>
